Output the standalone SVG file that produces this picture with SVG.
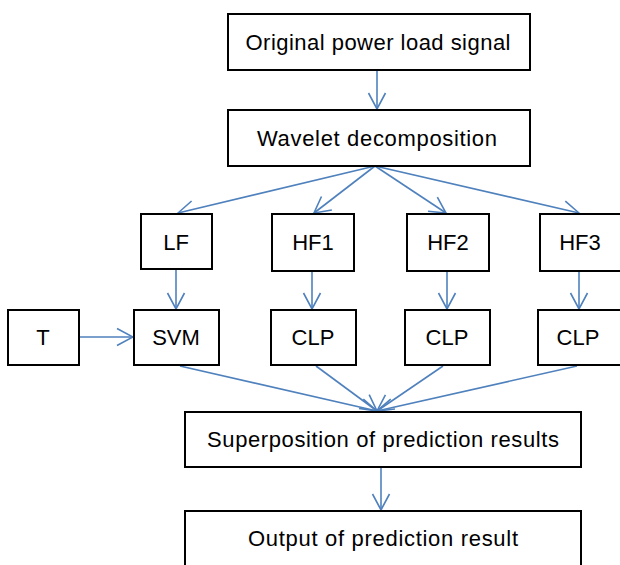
<svg xmlns="http://www.w3.org/2000/svg" width="620" height="565" viewBox="0 0 620 565">
<defs>
<style>
.box{fill:#fff;stroke:#000;stroke-width:2}
.t{font-family:"Liberation Sans",Arial,sans-serif;font-size:22px;fill:#000;text-anchor:middle;dominant-baseline:central}
.c{fill:none;stroke:#4F81BD;stroke-width:1.6;marker-end:url(#ah)}
</style>
<marker id="ah" viewBox="0 0 18 20" refX="17" refY="10" markerWidth="18" markerHeight="20" markerUnits="userSpaceOnUse" orient="auto">
<path d="M1,1.5 L17,10 L1,18.5" fill="none" stroke="#4F81BD" stroke-width="1.6"/>
</marker>
</defs>
<rect width="620" height="565" fill="#fff"/>
<g id="connectors">
<line class="c" x1="377" y1="70" x2="377" y2="109"/>
<line class="c" x1="375" y1="166" x2="178" y2="213"/>
<line class="c" x1="375" y1="166" x2="314" y2="213"/>
<line class="c" x1="375" y1="166" x2="446" y2="213"/>
<line class="c" x1="375" y1="166" x2="579" y2="213"/>
<line class="c" x1="176" y1="269" x2="176" y2="309"/>
<line class="c" x1="312" y1="271" x2="312" y2="309"/>
<line class="c" x1="447" y1="271" x2="447" y2="309"/>
<line class="c" x1="579" y1="271" x2="579" y2="309"/>
<line class="c" x1="79" y1="337" x2="133" y2="337"/>
<line class="c" x1="180" y1="366" x2="377" y2="411"/>
<line class="c" x1="316" y1="366" x2="377" y2="411"/>
<line class="c" x1="443" y1="366" x2="377" y2="411"/>
<line class="c" x1="577" y1="366" x2="377" y2="411"/>
<line class="c" x1="381" y1="468" x2="381" y2="510"/>
</g>
<g id="n-original"><rect class="box" x="228" y="14" width="302" height="56"/><text class="t" x="378" y="42" textLength="265" lengthAdjust="spacing">Original power load signal</text></g>
<g id="n-wavelet"><rect class="box" x="228" y="110" width="302" height="56"/><text class="t" x="377" y="138" textLength="240" lengthAdjust="spacing">Wavelet decomposition</text></g>
<g id="n-lf"><rect class="box" x="141" y="214" width="71" height="55"/><text class="t" x="176" y="242">LF</text></g>
<g id="n-hf1"><rect class="box" x="272" y="214" width="82" height="57"/><text class="t" x="313" y="242">HF1</text></g>
<g id="n-hf2"><rect class="box" x="407" y="214" width="82" height="57"/><text class="t" x="448" y="242">HF2</text></g>
<g id="n-hf3"><rect class="box" x="540" y="214" width="82" height="57"/><text class="t" x="580" y="242">HF3</text></g>
<g id="n-t"><rect class="box" x="8" y="310" width="71" height="55"/><text class="t" x="43" y="337">T</text></g>
<g id="n-svm"><rect class="box" x="134" y="310" width="85" height="55"/><text class="t" x="176" y="337">SVM</text></g>
<g id="n-clp1"><rect class="box" x="271" y="310" width="85" height="55"/><text class="t" x="313" y="337">CLP</text></g>
<g id="n-clp2"><rect class="box" x="405" y="310" width="85" height="55"/><text class="t" x="447" y="337">CLP</text></g>
<g id="n-clp3"><rect class="box" x="538" y="310" width="84" height="55"/><text class="t" x="578" y="337">CLP</text></g>
<g id="n-superposition"><rect class="box" x="185" y="412" width="396" height="55"/><text class="t" x="383" y="439" textLength="352" lengthAdjust="spacing">Superposition of prediction results</text></g>
<g id="n-output"><rect class="box" x="185" y="511" width="396" height="60"/><text class="t" x="383" y="538" textLength="270" lengthAdjust="spacing">Output of prediction result</text></g>
</svg>
